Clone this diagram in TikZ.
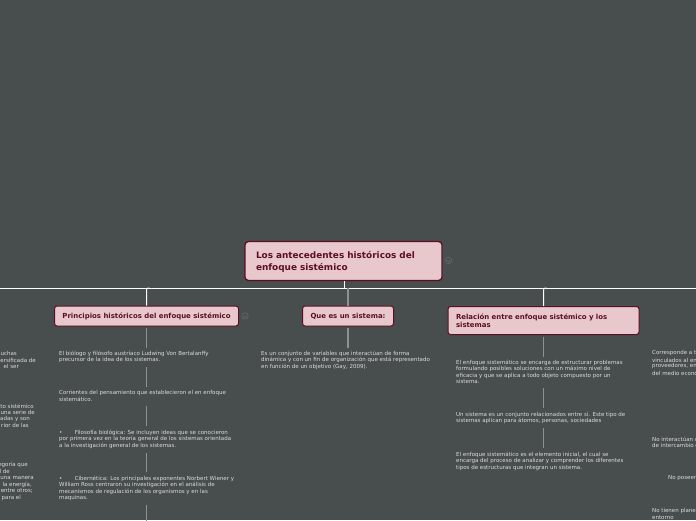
\documentclass[tikz,border=0pt]{standalone}
\usepackage{fontspec}
\setmainfont{DejaVu Sans}
\definecolor{bgc}{HTML}{484D4E}
\definecolor{boxf}{HTML}{E8C8CC}
\definecolor{boxd}{HTML}{5B0F24}
\definecolor{txtc}{HTML}{DCDCDC}
\definecolor{connc}{HTML}{8E9192}
\definecolor{iconc}{HTML}{62676A}
\tikzset{
  topic/.style={draw=boxd,line width=1pt,fill=boxf,rounded corners=2.6pt,text=boxd,font=\bfseries\fontsize{6.95}{8.4}\selectfont,inner ysep=0pt,align=left},
  roottopic/.style={topic,line width=1.3pt,rounded corners=3.5pt,font=\bfseries\fontsize{8.9}{11.3}\selectfont},
  body/.style={anchor=north west,inner sep=0pt,text=txtc,font=\fontsize{5.5}{6.55}\selectfont,align=left},
  frag/.style={anchor=east,inner sep=0pt,text=txtc,font=\fontsize{5.5}{6.55}\selectfont},
  fragl/.style={anchor=west,inner sep=0pt,text=txtc,font=\fontsize{5.5}{6.55}\selectfont},
  bus/.style={draw=white,line width=1pt},
  conn/.style={draw=connc,line width=1.1pt,shorten <=4pt,shorten >=4pt},
  connfirst/.style={draw=connc,line width=1.1pt,shorten <=1.5pt,shorten >=3pt},
  icon/.style={draw=iconc,line width=.6pt,circle,minimum size=6.5pt,inner sep=0pt}
}
\newcommand{\chev}[1]{\draw[iconc,line width=.6pt] ($(#1)+(-1.8,-.4)$) -- ($(#1)+(0,1.4)$) -- ($(#1)+(1.8,-.4)$);}
\usetikzlibrary{calc}
\begin{document}
\begin{tikzpicture}[x=1pt,y=-1pt]
\useasboundingbox (0,0) rectangle (696,520);
\clip (0,0) rectangle (696,520);
\fill[bgc] (0,0) rectangle (696,520);

% topics
\node[roottopic,minimum width=197pt,minimum height=39pt,text width=175pt,inner xsep=11pt] (root) at (343.5,261) {\raisebox{-1pt}[\height][0pt]{\strut Los antecedentes históricos del}\\[-.2pt]\raisebox{-1pt}{enfoque sistémico}};
\node[topic,minimum width=184pt,minimum height=20pt,align=center] (pr) at (146.5,316) {\raisebox{-1.2pt}{Principios históricos del enfoque sistémico}};
\node[topic,minimum width=91pt,minimum height=20pt,align=center] (qu) at (348,316) {\raisebox{-1.2pt}{Que es un sistema:}};
\node[topic,minimum width=191pt,minimum height=28pt,text width=175pt,inner xsep=8pt] (re) at (543.5,320.5) {Relación entre enfoque sistémico y los\\sistemas};

% collapse icons
\node[icon] (ic1) at (448.5,260.5) {}; \chev{ic1}
\node[icon] (ic2) at (245,316) {}; \chev{ic2}

% main bus
\coordinate (busl) at (0,288);
\coordinate (busr) at (696,288);
\draw[bus] (busl) -- (busr);
\draw[bus] (root.south -| 344,0) -- (344,288);
\draw[bus,rounded corners=2pt] (pr.north) -- (pr.north |- busl) -- ++(3,0);
\draw[bus,rounded corners=2pt] (re.north) -- (re.north |- busl) -- ++(3,0);
\draw[draw=connc,line width=1.3pt] (qu.north) -- (qu.north |- busl);

% Principios column
\node[body] (p1) at (59,350.5) {El biólogo y filósofo austríaco Ludwing Von Bertalanffy\\precursor de la idea de los sistemas.};
\node[body] (p2) at (59,390.5) {Corrientes del pensamiento que establecieron el en enfoque\\sistemático.};
\node[body] (p3) at (59,429.5) {•\hspace{12.4pt}Filosofía biológica: Se incluyen ideas que se conocieron\\por primera vez en la teoría general de los sistemas orientada\\a la investigación general de los sistemas.};
\node[body] (p4) at (59,475.5) {•\hspace{12.4pt}Cibernética: Los principales exponentes Norbert Wiener y\\William Ross centraron su investigación en el análisis de\\mecanismos de regulación de los organismos y en las\\maquinas.};
\coordinate (pend) at (146.5,530);
\draw[connfirst] (pr.south) -- (pr.south |- p1.north);
\draw[conn] (pr.south |- p1.south) -- (pr.south |- p2.north);
\draw[conn] (pr.south |- p2.south) -- (pr.south |- p3.north);
\draw[conn] (pr.south |- p3.south) -- (pr.south |- p4.north);
\draw[conn] (pr.south |- p4.south) -- (pend);

% Que es column
\node[body] (q1) at (261,350.5) {Es un conjunto de variables que interactúan de forma\\dinámica y con un fin de organización que está representado\\en función de un objetivo (Gay, 2009).};
\draw[connfirst] (qu.south) -- (qu.south |- q1.north);

% Relacion column
\node[body] (r1) at (456,359.5) {El enfoque sistemático se encarga de estructurar problemas\\formulando posibles soluciones con un máximo nivel de\\eficacia y que se aplica a todo objeto compuesto por un\\sistema.};
\node[body] (r2) at (456,411.5) {Un sistema es un conjunto relacionados entre sí. Este tipo de\\sistemas aplican para átomos, personas, sociedades};
\node[body] (r3) at (456,451.5) {El enfoque sistemático es el elemento inicial, el cual se\\encarga del proceso de analizar y comprender los diferentes\\tipos de estructuras que integran un sistema.};
\draw[connfirst] (re.south) -- (re.south |- r1.north);
\draw[conn] (re.south |- r1.south) -- (re.south |- r2.north);
\draw[conn] (re.south |- r2.south) -- (re.south |- r3.north);

% fragments cut by the left edge
\node[frag] (la1) at (17,353) {uchas};
\node[frag] (la2) at (36,360) {ersificada de};
\node[frag] (la3) at (19,366) {el ser};
\node[frag] (lb1) at (34,406) {to sistémico};
\node[frag] (lb2) at (35,412.5) {una serie de};
\node[frag] (lb3) at (30,419) {adas y son};
\node[frag] (lb4) at (29,425) {rior de las};
\node[frag] (lc1) at (28,465) {egoría que};
\node[frag] (lc2) at (10,471.5) {l de};
\node[frag] (lc3) at (34,478) {una manera};
\node[frag] (lc4) at (32,484.5) {la energía,};
\node[frag] (lc5) at (33,491) {entre otros;};
\node[frag] (lc6) at (21,497.5) {para el};

% fragments cut by the right edge
\node[fragl] (ra1) at (652,353) {Corresponde a t};
\node[fragl] (ra2) at (652,360) {vinculados al en};
\node[fragl] (ra3) at (652,366) {proveedores, en};
\node[fragl] (ra4) at (652,373) {del medio econó};
\node[fragl] (rb1) at (652,439) {No interactúan c};
\node[fragl] (rb2) at (652,445) {de intercambio c};
\node[fragl] (rc1) at (668,478) {No poseen};
\node[fragl] (rd1) at (652,511) {No tienen planea};
\node[fragl] (rd2) at (652,518) {entorno};
\end{tikzpicture}
\end{document}
